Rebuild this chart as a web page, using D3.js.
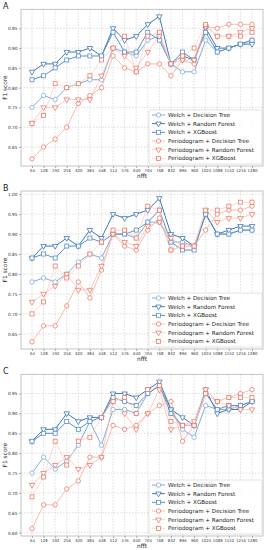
<!DOCTYPE html>
<html>
<head>
<meta charset="utf-8">
<script src="https://cdn.jsdelivr.net/npm/d3@7"></script>
<style>
  body { margin: 0; background: #fff; }
  svg { display: block; font-family: "DejaVu Sans", sans-serif; }
</style>
</head>
<body>
<svg id="chart"></svg>
<script>
var width = 266,
    height = 550;

var nfft = [64,128,192,256,320,384,448,512,576,640,704,768,832,896,960,1024,1088,1152,1216,1280];

var seriesNames = ["Welch + Decision Tree","Welch + Random Forest","Welch + XGBoost",
                   "Periodogram + Decision Tree","Periodogram + Random Forest","Periodogram + XGBoost"];

// panel A
var welchDT_A  = [0.75,0.78,0.77,0.80,0.81,0.82,0.82,0.90,0.89,0.88,0.92,0.93,0.86,0.84,0.84,0.92,0.89,0.90,0.91,0.92];
var welchRF_A  = [0.84,0.86,0.86,0.89,0.89,0.90,0.88,0.95,0.92,0.93,0.96,0.98,0.86,0.88,0.87,0.95,0.90,0.90,0.91,0.91];
var welchXGB_A = [0.82,0.83,0.85,0.87,0.88,0.88,0.88,0.94,0.89,0.89,0.94,0.92,0.86,0.89,0.87,0.94,0.89,0.90,0.91,0.92];
var perioDT_A  = [0.62,0.65,0.67,0.70,0.76,0.78,0.80,0.88,0.85,0.84,0.86,0.86,0.83,0.87,0.86,0.955,0.95,0.96,0.96,0.96];
var perioRF_A  = [0.71,0.75,0.75,0.77,0.77,0.77,0.83,0.90,0.88,0.85,0.89,0.93,0.86,0.87,0.87,0.955,0.93,0.93,0.94,0.95];
var perioXGB_A = [0.71,0.73,0.81,0.80,0.81,0.83,0.87,0.90,0.93,0.84,0.93,0.94,0.86,0.88,0.90,0.96,0.93,0.93,0.93,0.94];

// panel B
var welchDT_B  = [0.78,0.79,0.78,0.80,0.83,0.85,0.84,0.90,0.90,0.89,0.93,0.93,0.88,0.88,0.87,0.95,0.90,0.90,0.91,0.91];
var welchRF_B  = [0.84,0.87,0.87,0.89,0.87,0.91,0.89,0.95,0.94,0.95,0.96,0.99,0.90,0.89,0.87,0.95,0.90,0.91,0.92,0.92];
var welchXGB_B = [0.84,0.85,0.84,0.87,0.87,0.89,0.88,0.90,0.90,0.91,0.93,0.96,0.88,0.86,0.86,0.95,0.90,0.90,0.91,0.91];
var perioDT_B  = [0.63,0.67,0.67,0.72,0.78,0.74,0.81,0.90,0.87,0.86,0.91,0.94,0.86,0.87,0.87,0.91,0.95,0.96,0.96,0.97];
var perioRF_B  = [0.73,0.75,0.77,0.80,0.76,0.76,0.82,0.90,0.88,0.87,0.92,0.93,0.89,0.87,0.87,0.96,0.93,0.94,0.94,0.95];
var perioXGB_B = [0.70,0.73,0.82,0.79,0.82,0.85,0.88,0.91,0.91,0.89,0.97,0.96,0.86,0.87,0.87,0.96,0.96,0.97,0.98,0.98];

// panel C
var welchDT_C  = [0.75,0.79,0.76,0.78,0.82,0.88,0.82,0.91,0.91,0.90,0.95,0.97,0.91,0.86,0.84,0.92,0.91,0.91,0.92,0.93];
var welchRF_C  = [0.83,0.86,0.86,0.90,0.88,0.89,0.89,0.95,0.95,0.94,0.96,0.98,0.91,0.89,0.87,0.96,0.90,0.91,0.91,0.93];
var welchXGB_C = [0.83,0.85,0.85,0.88,0.86,0.88,0.89,0.94,0.93,0.92,0.95,0.97,0.90,0.87,0.87,0.95,0.91,0.92,0.92,0.93];
var perioDT_C  = [0.61,0.67,0.67,0.71,0.73,0.79,0.79,0.87,0.86,0.87,0.90,0.92,0.93,0.83,0.87,0.95,0.93,0.94,0.95,0.96];
var perioRF_C  = [0.72,0.75,0.77,0.79,0.76,0.77,0.79,0.93,0.90,0.86,0.90,0.96,0.86,0.87,0.88,0.96,0.93,0.92,0.91,0.91];
var perioXGB_C = [0.69,0.74,0.83,0.77,0.83,0.84,0.89,0.93,0.94,0.90,0.96,0.97,0.88,0.87,0.87,0.95,0.93,0.94,0.94,0.94];

var ticksA = [0.65,0.70,0.75,0.80,0.85,0.90,0.95];
var ticksB = [0.65,0.70,0.75,0.80,0.85,0.90,0.95,1.00];
var ticksC = [0.60,0.65,0.70,0.75,0.80,0.85,0.90,0.95];

var lineColors   = ["#7eaedd","#3f78b5","#5b8fc6","#f7a999","#f9beb5","#fbcfc8"];
var markerColors = ["#7eaedd","#3f78b5","#5b8fc6","#f07a68","#f07a68","#f07a68"];
var lineWidths   = [1,1,1,0.8,0.8,0.8];
var shapes = ["circle","tri","square","circle","tri","square"];

var panels = [
    {label:"A", top:9.3, bottom:166, ticks:ticksA, series:[welchDT_A,welchRF_A,welchXGB_A,perioDT_A,perioRF_A,perioXGB_A]},
    {label:"B", top:191, bottom:349, ticks:ticksB, series:[welchDT_B,welchRF_B,welchXGB_B,perioDT_B,perioRF_B,perioXGB_B]},
    {label:"C", top:374.3, bottom:536, ticks:ticksC, series:[welchDT_C,welchRF_C,welchXGB_C,perioDT_C,perioRF_C,perioXGB_C]}
];

var left = 21, right = 263;

var svg = d3.select("svg#chart")
    .attr("width",width)
    .attr("height",height);

var xPad = (nfft[nfft.length-1]-nfft[0])*0.05;
var x = d3.scaleLinear()
    .domain([nfft[0]-xPad, nfft[nfft.length-1]+xPad])
    .range([left,right]);

function drawMarker(g, shape, cx, cy, color){
    if(shape=="circle"){
        g.append("circle").attr("cx",cx).attr("cy",cy).attr("r",2.2)
            .attr("fill","#fff").attr("stroke",color).attr("stroke-width",0.8);
    } else if(shape=="square"){
        g.append("rect").attr("x",cx-2).attr("y",cy-2).attr("width",4).attr("height",4)
            .attr("fill","#fff").attr("stroke",color).attr("stroke-width",0.8);
    } else {
        g.append("path").attr("d",d3.symbol().type(d3.symbolTriangle).size(13)())
            .attr("transform","translate("+cx+","+cy+") rotate(180)")
            .attr("fill","#fff").attr("stroke",color).attr("stroke-width",0.8);
    }
}

panels.forEach(function(p){
    var all = d3.merge(p.series);
    var lo = d3.min(all), hi = d3.max(all), pad = (hi-lo)*0.05;
    var y = d3.scaleLinear().domain([lo-pad, hi+pad]).range([p.bottom,p.top]);

    var g = svg.append("g");

    // grid
    g.selectAll(".gx").data(nfft).enter().append("line")
        .attr("x1",function(d){return x(d)}).attr("x2",function(d){return x(d)})
        .attr("y1",p.top).attr("y2",p.bottom)
        .attr("stroke","#c8c8c8").attr("stroke-width",0.6).attr("stroke-dasharray","1.5,1.5");
    g.selectAll(".gy").data(p.ticks).enter().append("line")
        .attr("x1",left).attr("x2",right)
        .attr("y1",function(d){return y(d)}).attr("y2",function(d){return y(d)})
        .attr("stroke","#c8c8c8").attr("stroke-width",0.6).attr("stroke-dasharray","1.5,1.5");

    // axes
    var xAxis = d3.axisBottom(x).tickValues(nfft).tickSize(2).tickPadding(1.5).tickFormat(d3.format("d"));
    var yAxis = d3.axisLeft(y).tickValues(p.ticks).tickSize(2).tickPadding(1.5).tickFormat(d3.format(".2f"));
    var gx = g.append("g").attr("transform","translate(0,"+p.bottom+")").call(xAxis);
    var gy = g.append("g").attr("transform","translate("+left+",0)").call(yAxis);
    [gx,gy].forEach(function(a){
        a.select(".domain").remove();
        a.selectAll("line").attr("stroke","#555").attr("stroke-width",0.5);
        a.selectAll("text").attr("fill","#333").attr("font-family","DejaVu Sans");
    });
    gx.selectAll("text").attr("font-size",3.9);
    gy.selectAll("text").attr("font-size",4.3);

    g.append("rect").attr("x",left).attr("y",p.top)
        .attr("width",right-left).attr("height",p.bottom-p.top)
        .attr("fill","none").attr("stroke","#b5b5b5").attr("stroke-width",0.8);

    // series
    p.series.forEach(function(vals,i){
        var line = d3.line().x(function(d,j){return x(nfft[j])}).y(function(d){return y(d)});
        g.append("path").datum(vals).attr("d",line)
            .attr("fill","none").attr("stroke",lineColors[i]).attr("stroke-width",lineWidths[i]);
    });
    p.series.forEach(function(vals,i){
        var mg = g.append("g");
        vals.forEach(function(v,j){ drawMarker(mg, shapes[i], x(nfft[j]), y(v), markerColors[i]); });
    });

    // labels
    g.append("text").attr("x",3).attr("y",p.top).attr("font-size",8).attr("fill","#222").text(p.label);
    g.append("text").attr("x",(left+right)/2).attr("y",p.bottom+11.5)
        .attr("text-anchor","middle").attr("font-size",5.8).attr("fill","#222").text("nfft");
    g.append("text").attr("transform","translate(7,"+((p.top+p.bottom)/2)+") rotate(-90)")
        .attr("text-anchor","middle").attr("font-size",5.8).attr("fill","#222").text("F1 score");

    // legend
    var lh = 54, lw = 113, lx = 149, ly = p.bottom-2-lh;
    var lg = g.append("g").attr("transform","translate("+lx+","+ly+")");
    lg.append("rect").attr("width",lw).attr("height",lh).attr("rx",1.5)
        .attr("fill","#fff").attr("fill-opacity",0.85).attr("stroke","#d0d0d0").attr("stroke-width",0.6);
    seriesNames.forEach(function(name,i){
        var cy = 5 + i*8.67;
        lg.append("line").attr("x1",3).attr("x2",16).attr("y1",cy).attr("y2",cy)
            .attr("stroke",lineColors[i]).attr("stroke-width",lineWidths[i]);
        drawMarker(lg, shapes[i], 9.5, cy, markerColors[i]);
        lg.append("text").attr("x",19).attr("y",cy+2).attr("font-size",5.6).attr("fill","#222").text(name);
    });
});
</script>
</body>
</html>
